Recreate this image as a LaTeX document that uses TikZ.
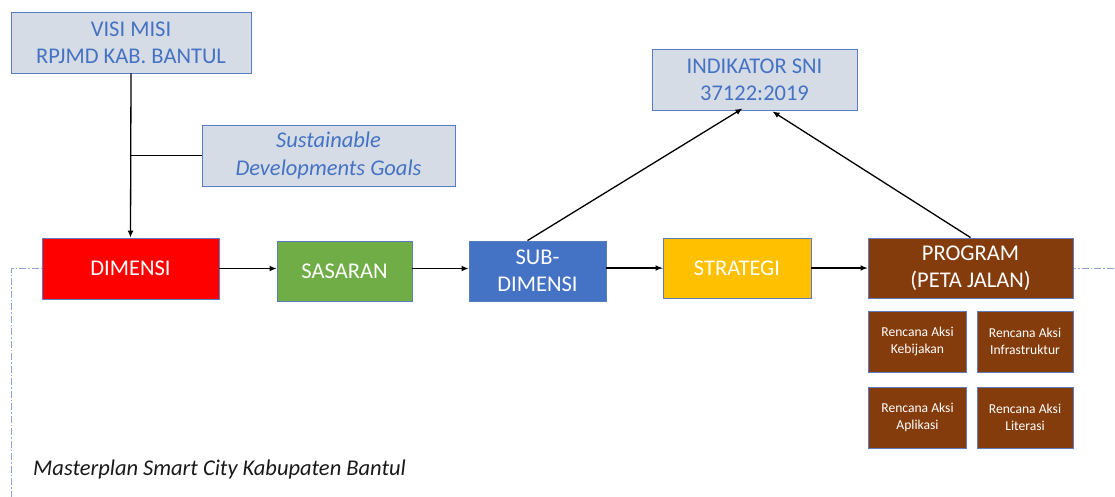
\documentclass[tikz,border=0pt]{standalone}
\usepackage{fontspec}
\setmainfont{Carlito}
\usetikzlibrary{arrows.meta}
\definecolor{lightbox}{HTML}{D6DCE5}
\definecolor{boxline}{HTML}{5B7DBD}
\definecolor{bluetext}{HTML}{4472C4}
\definecolor{dimred}{HTML}{FF0000}
\definecolor{sasgreen}{HTML}{70AD47}
\definecolor{subblue}{HTML}{4472C4}
\definecolor{strorange}{HTML}{FFC000}
\definecolor{progbrown}{HTML}{843C0C}
\definecolor{framecol}{HTML}{8FA6D0}
\begin{document}
\begin{tikzpicture}[x=1pt,y=-1pt,
  box/.style={draw=boxline,line width=0.9pt,inner sep=0pt,align=center,
    font=\fontsize{22.5}{27}\selectfont},
  refbox/.style={box,fill=lightbox,text=bluetext},
  stagebox/.style={box,text=white},
  actbox/.style={box,fill=progbrown,text=white,minimum width=98pt,minimum height=61pt,
    font=\fontsize{13.6}{17}\selectfont},
  arr/.style={line width=1.3pt,-{Latex[length=7pt,width=6pt]}},
  link/.style={line width=1.3pt},
  frameline/.style={draw=framecol,line width=0.8pt,dash pattern=on 7pt off 2pt on 1.5pt off 2pt}
]
\useasboundingbox (0,0) rectangle (1115,497);

% frame behind everything
\coordinate (fb) at (11,510);
\coordinate (fc) at (11,268);
\coordinate (fr) at (1125,268);
\draw[frameline] (fb) -- (fc) -- (fr);

% reference boxes
\node[refbox,minimum width=240pt,minimum height=61pt] (visi) at (131,42.5) {VISI MISI\\RPJMD KAB. BANTUL};
\node[refbox,minimum width=253pt,minimum height=61pt,font=\fontsize{22.5}{28}\selectfont\itshape] (sdg) at (328.5,155.5) {Sustainable\\Developments Goals};
\node[refbox,minimum width=205pt,minimum height=61pt] (ind) at (754.5,79.5) {INDIKATOR SNI\\37122:2019};

% stage boxes
\node[stagebox,fill=dimred,minimum width=177pt,minimum height=61pt] (dim) at (130.5,268.5) {DIMENSI};
\node[stagebox,fill=sasgreen,minimum width=135pt,minimum height=60pt] (sas) at (344.5,271) {SASARAN};
\node[stagebox,fill=subblue,minimum width=137pt,minimum height=60pt] (sub) at (537.5,271) {SUB-\\DIMENSI};
\node[stagebox,fill=strorange,minimum width=148pt,minimum height=60pt] (str) at (737,268) {STRATEGI};
\node[stagebox,fill=progbrown,minimum width=205pt,minimum height=60pt] (prog) at (970.5,268) {PROGRAM\\(PETA JALAN)};

% action plan boxes
\node[actbox] (keb) at (917.5,341.5) {Rencana Aksi\\Kebijakan};
\node[actbox,minimum width=96pt] (inf) at (1025,341.5) {Rencana Aksi\\Infrastruktur};
\node[actbox] (apl) at (917.5,417.5) {Rencana Aksi\\Aplikasi};
\node[actbox,minimum width=96pt] (lit) at (1025,417.5) {Rencana Aksi\\Literasi};

% connectors
\draw[arr] (visi.south) -- (dim.north);
\coordinate (sdgjoin) at (visi.south |- sdg.west);
\draw[link] (sdgjoin) -- (sdg.west);
\draw[arr] (dim.east) -- (sas.west |- dim.east);
\draw[arr] (sas.east |- dim.east) -- (sub.west |- dim.east);
\draw[arr] (sub.east |- str.west) -- (str.west);
\draw[arr] (str.east) -- (prog.west);
\draw[arr] ([xshift=-10pt]sub.north) -- ([xshift=-12pt,yshift=2pt]ind.south);
\draw[arr] (prog.north) -- ([xshift=18pt,yshift=-1pt]ind.south);

% caption
\node[anchor=base west,inner sep=0pt,font=\fontsize{22.5}{27}\selectfont\itshape,text=black!90] (cap) at (33,475) {Masterplan Smart City Kabupaten Bantul};
\end{tikzpicture}
\end{document}
